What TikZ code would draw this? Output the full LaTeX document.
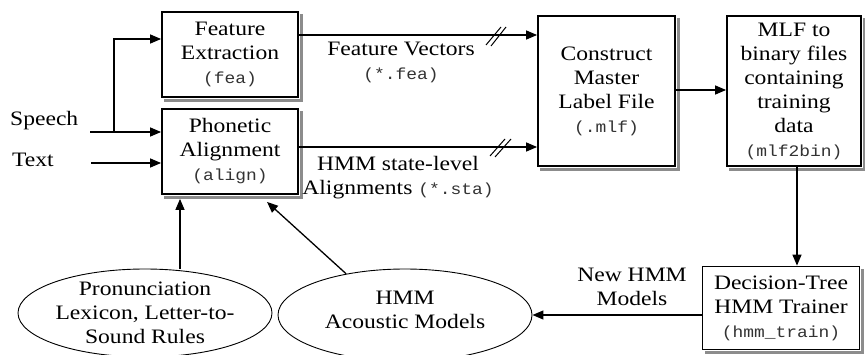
\documentclass[tikz,border=0pt]{standalone}
\usepackage{fontspec}
\setmainfont[FakeStretch=1.15]{Liberation Serif}
\setmonofont[FakeStretch=1.12]{Liberation Mono}
\usetikzlibrary{arrows.meta,shapes.geometric,calc}
% file and program names in typewriter type
\newcommand\fname[1]{{\fontsize{16}{24}\selectfont\ttfamily\color{black!80}#1}}

\begin{document}
\begin{tikzpicture}[x=1pt,y=-1pt,
  every node/.style={font=\fontsize{20.5}{24}\selectfont},
  box/.style={draw, line width=1.8pt, fill=white, align=center, inner sep=0pt},
  shade strip/.style={fill=black!45},
  oval/.style={draw, ellipse, line width=0.9pt, inner sep=0pt},
  plain/.style={inner sep=0pt, align=center},
  arr/.style={line width=1.3pt, -{Triangle[length=11pt,width=9pt]}},
  brk/.style={line width=1pt}]
\useasboundingbox (0,0) rectangle (865,354);

% processing stages
\node[box, minimum width=136pt, minimum height=85pt] (fe) at (230,54.5)
  {Feature\\Extraction\\\fname{(fea)}};
\node[box, minimum width=136pt, minimum height=85pt] (pa) at (230,151.5)
  {Phonetic\\Alignment\\\fname{(align)}};
\node[box, minimum width=137pt, minimum height=150pt] (cm) at (606.5,91)
  {Construct\\Master\\Label File\\\fname{(.mlf)}};
\node[box, minimum width=134pt, minimum height=150pt] (mb) at (794,91)
  {MLF to\\binary files\\containing\\training\\data\\\fname{(mlf2bin)}};
\node[box, minimum width=157pt, minimum height=83pt] (dt) at (781,308)
  {Decision-Tree\\HMM Trainer\\\fname{(hmm\textunderscore train)}};

% gray drop shadow along the right and bottom edge of each stage box
\foreach \b in {fe,pa,cm,mb,dt} {
  \fill[shade strip] ($(\b.north east)+(0.9,3)$) rectangle ($(\b.south east)+(3.6,3.6)$);
  \fill[shade strip] ($(\b.south west)+(3,0.9)$) rectangle ($(\b.south east)+(3.6,3.6)$);
}

% knowledge sources
\node[oval, minimum width=254pt, minimum height=88pt] (pron) at (145,313) {};
\node[plain] at (pron) {Pronunciation\\Lexicon, Letter-to-\\Sound Rules};
\node[oval, minimum width=254pt, minimum height=92pt] (hmm) at (405,315) {};
\node[plain] at ([yshift=5pt]hmm) {HMM\\Acoustic Models};

% inputs
\node[plain, anchor=west] (speech) at (10,121) {Speech};
\node[plain, anchor=west] (text) at (12,160) {Text};

\coordinate (sp0) at (90,132);
\coordinate (br) at (114,132);
\coordinate (feIn) at (114,39);
\coordinate (tx0) at (91,163);
\draw[arr] (sp0) -- (sp0 -| pa.west);
\draw[arr] (br) -- (feIn) -- (feIn -| fe.west);
\draw[arr] (tx0) -- (tx0 -| pa.west);

% feature vectors
\coordinate (fv) at (400,35);
\draw[arr] (fe.east |- fv) -- (cm.west |- fv);
\draw[brk] (486,45) -- (501,27);
\draw[brk] (491,46) -- (506,27);
\node[plain] at (401,62) {Feature Vectors\\\fname{(*.fea)}};

% state-level alignments
\coordinate (al) at (400,147);
\draw[arr] (pa.east |- al) -- (cm.west |- al);
\draw[brk] (490,156) -- (505,139);
\draw[brk] (495,157) -- (511,139);
\node[plain] at (398,178) {HMM state-level\\Alignments \fname{(*.sta)}};

% training chain
\coordinate (m) at (700,90);
\draw[arr] (cm.east |- m) -- (mb.west |- m);
\coordinate (d) at (797,200);
\draw[arr] (mb.south -| d) -- (dt.north -| d);
\draw[arr] (dt.west |- hmm.east) -- (hmm.east);
\node[plain] at (632,287) {New HMM\\Models};

% models feeding the aligner
\coordinate (p) at (180,0);
\draw[arr] (pron.north -| p) -- ($(pa.south -| p)+(0,4)$);
\draw[arr] (hmm.145) -- ($(pa.south)+(37,7)$);
\end{tikzpicture}
\end{document}
